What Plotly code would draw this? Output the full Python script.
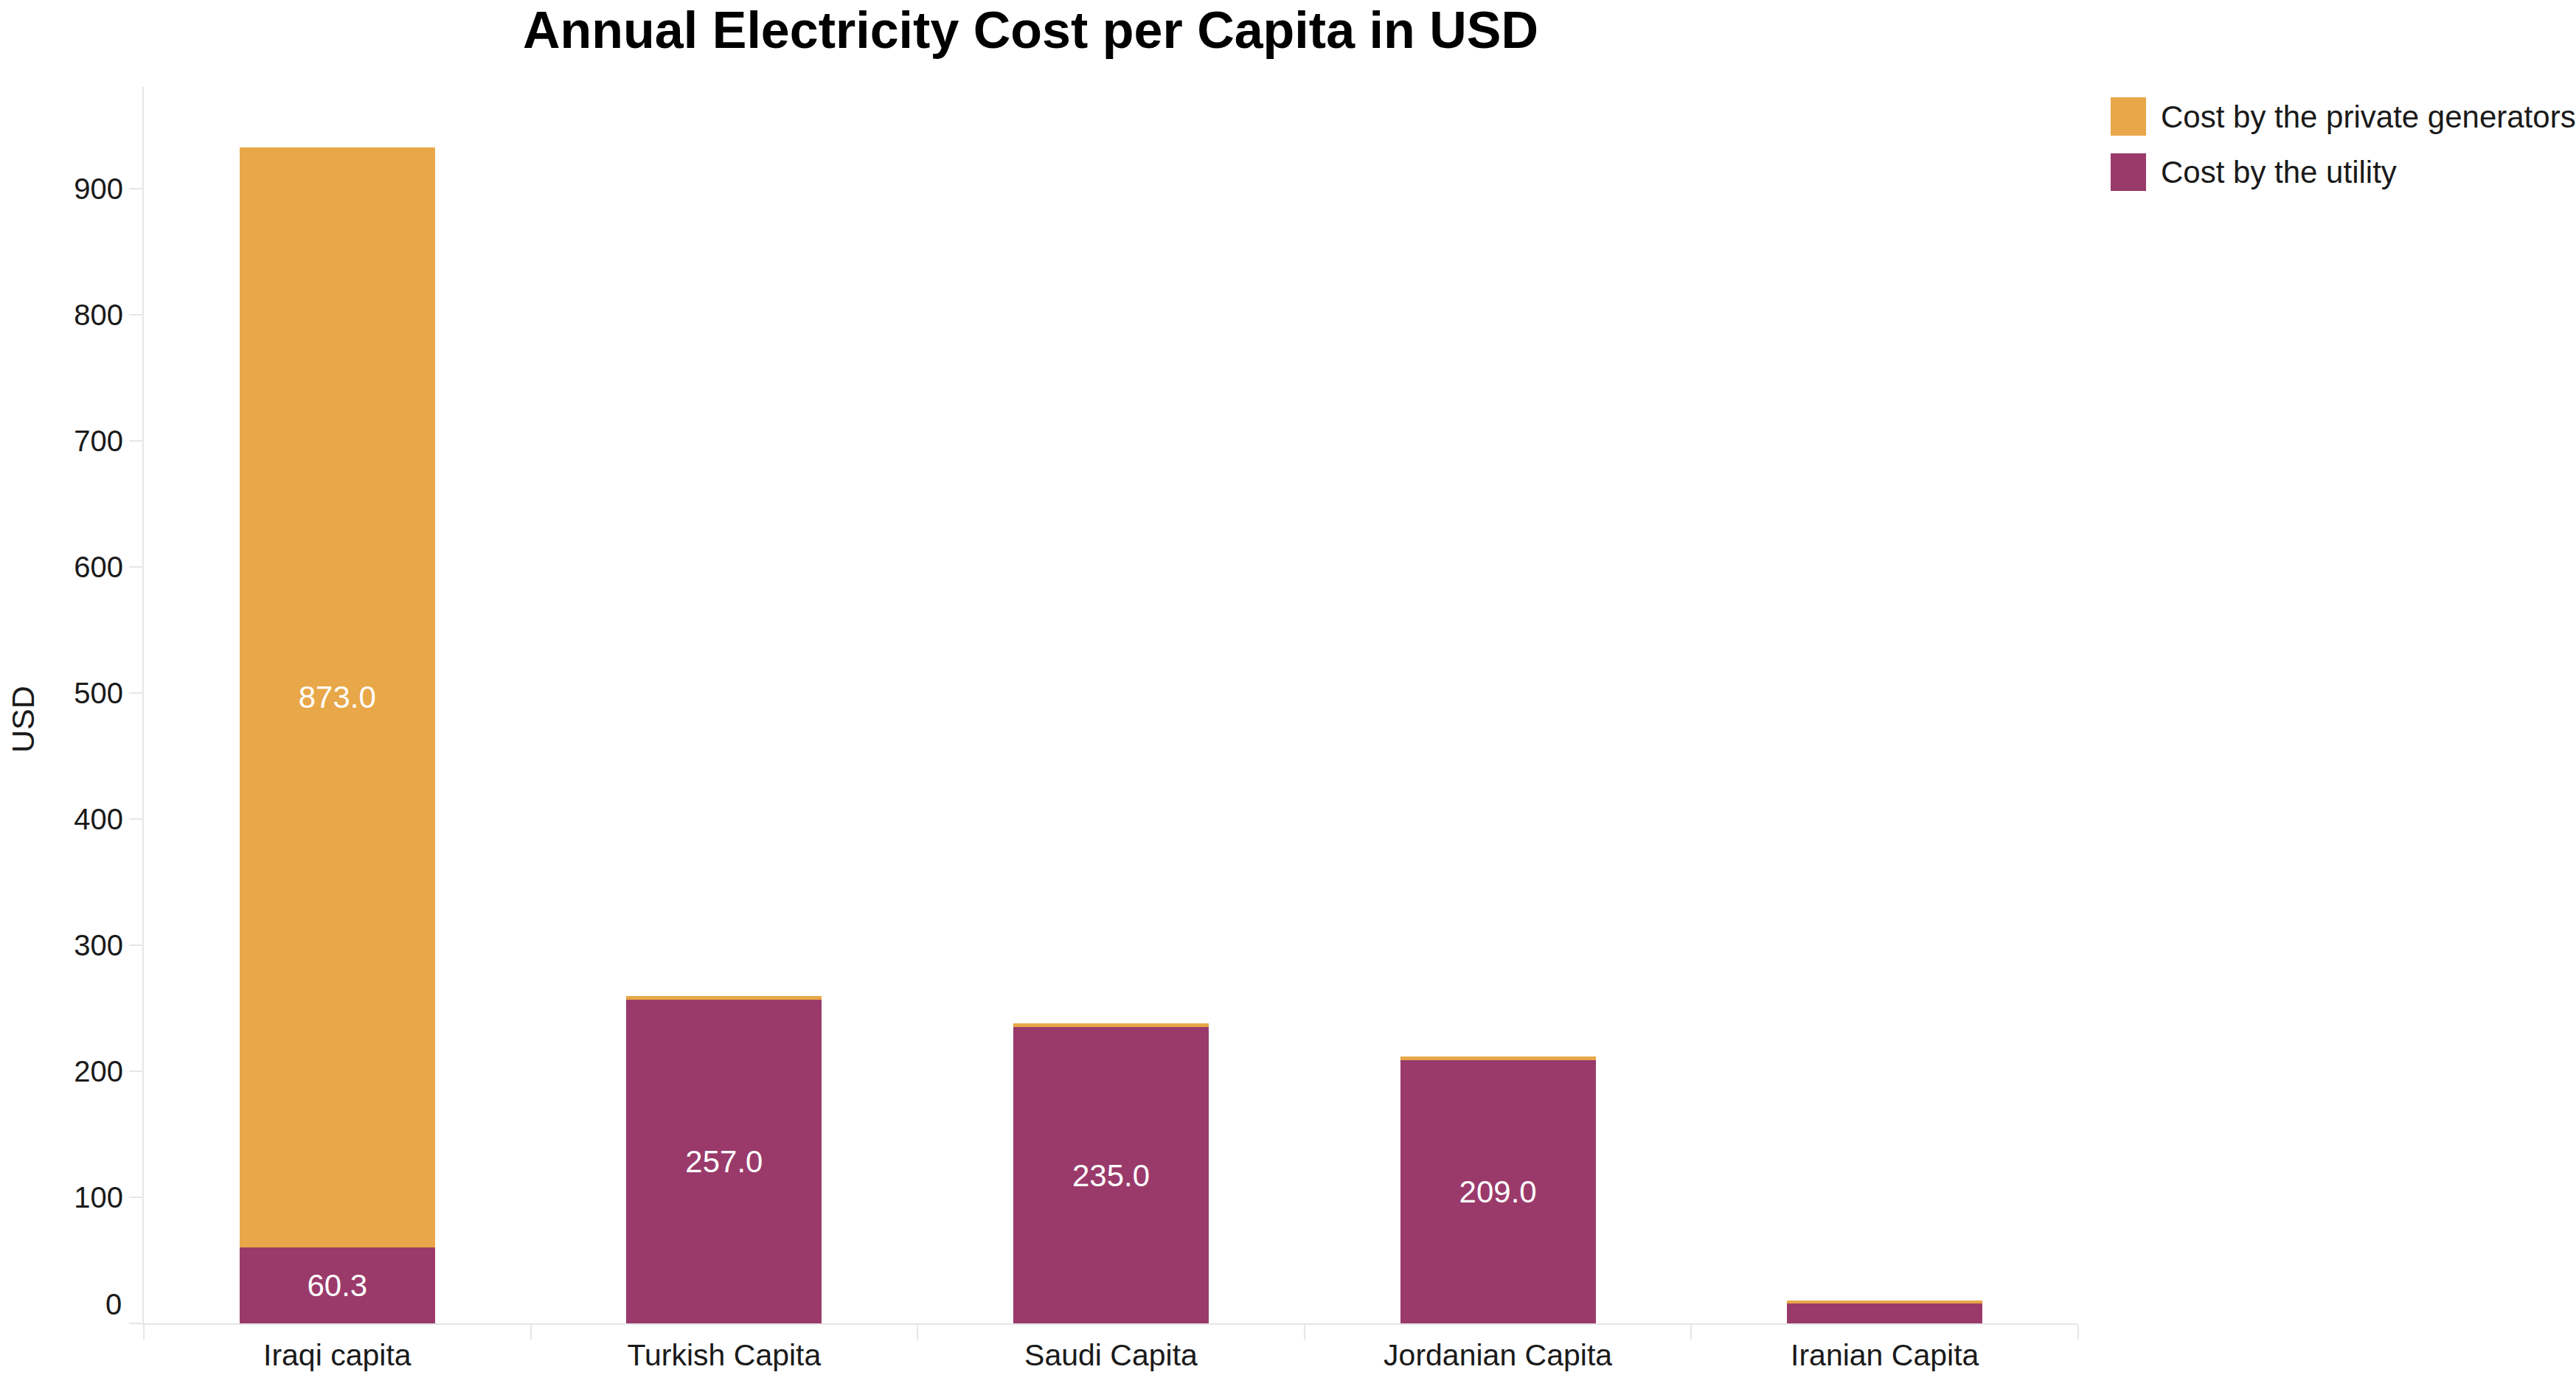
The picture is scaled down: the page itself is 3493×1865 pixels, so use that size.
import plotly.graph_objects as go

# Annual electricity cost per capita (USD), split by supplier
categories = ["Iraqi capita", "Turkish Capita", "Saudi Capita", "Jordanian Capita", "Iranian Capita"]
utility_cost = [60.3, 257.0, 235.0, 209.0, 16.0]
private_generator_cost = [873.0, 2.6, 2.9, 3.0, 2.0]
y_tick_values = [0, 100, 200, 300, 400, 500, 600, 700, 800, 900]

series_names = ["Cost by the private generators", "Cost by the utility"]
ORANGE = "#E8A748"
PURPLE = "#9A3A6B"
FONT = "Liberation Sans, Arial, sans-serif"
TEXT = "#1a1a1a"

W, H = 3493, 1865
L, R, T, B = 195, 675, 118, 70
plot_w, plot_h = W - L - R, H - T - B


def px_x(px):
    return (px - L) / plot_w


def px_y(py):
    return (H - B - py) / plot_h


fig = go.Figure()
fig.add_trace(go.Bar(
    x=categories, y=utility_cost, name=series_names[1],
    marker=dict(color=PURPLE, line=dict(width=0)),
    texttemplate="%{y:.1f}", textposition="inside", insidetextanchor="middle",
    textangle=0, insidetextfont=dict(color="white", size=42, family=FONT),
    showlegend=False,
))
fig.add_trace(go.Bar(
    x=categories, y=private_generator_cost, name=series_names[0],
    marker=dict(color=ORANGE, line=dict(width=0)),
    texttemplate="%{y:.1f}", textposition="inside", insidetextanchor="middle",
    textangle=0, insidetextfont=dict(color="white", size=42, family=FONT),
    showlegend=False,
))

# Legend drawn as large swatches with labels
legend_rows = [(series_names[0], ORANGE, 132, 184), (series_names[1], PURPLE, 208, 259)]
shapes = []
annotations = []
for name, color, top, bottom in legend_rows:
    shapes.append(dict(type="rect", xref="paper", yref="paper",
                       x0=px_x(2862), x1=px_x(2910), y0=px_y(bottom), y1=px_y(top),
                       fillcolor=color, line=dict(width=0), layer="above"))
    annotations.append(dict(text=name, xref="paper", yref="paper",
                            x=px_x(2928), y=px_y((top + bottom) / 2),
                            xanchor="left", yanchor="middle", showarrow=False,
                            font=dict(family=FONT, size=42, color=TEXT)))

# y-axis title
annotations.append(dict(text="USD", xref="paper", yref="paper",
                        x=px_x(31), y=px_y(976), textangle=-90,
                        xanchor="center", yanchor="middle", showarrow=False,
                        font=dict(family=FONT, size=43, color=TEXT)))

# the zero label sits slightly above the baseline
y_tick_text = [str(v) for v in y_tick_values]
y_tick_text[0] = ""
annotations.append(dict(text=str(y_tick_values[0]), xref="paper", yref="y",
                        x=px_x(167), y=y_tick_values[0], yshift=26,
                        xanchor="right", yanchor="middle", showarrow=False,
                        font=dict(family=FONT, size=40, color=TEXT)))

fig.update_layout(
    width=W, height=H,
    margin=dict(l=L, r=R, t=T, b=B, autoexpand=False),
    paper_bgcolor="white", plot_bgcolor="white",
    barmode="stack", bargap=0.495,
    showlegend=False,
    uniformtext=dict(minsize=42, mode="hide"),
    title=dict(text="<b>Annual Electricity Cost per Capita in USD</b>",
               x=1397.5 / W, xanchor="center", xref="container",
               y=1 - 40 / H, yanchor="middle", yref="container",
               font=dict(family=FONT, size=70, color="black")),
    font=dict(family=FONT, color=TEXT),
    shapes=shapes, annotations=annotations,
)
fig.update_xaxes(
    showline=True, linecolor="#e6e6e6", linewidth=2,
    ticks="outside", tickson="boundaries", ticklen=20, tickcolor="#e6e6e6", tickwidth=2,
    tickfont=dict(size=41, family=FONT, color=TEXT), ticklabelstandoff=6,
    showgrid=False, zeroline=False,
)
fig.update_yaxes(
    range=[0, 981], tickvals=y_tick_values, ticktext=y_tick_text,
    showline=True, linecolor="#e6e6e6", linewidth=2,
    ticks="outside", ticklen=18, tickcolor="#e6e6e6", tickwidth=2,
    tickfont=dict(size=40, family=FONT, color=TEXT),
    showgrid=False, zeroline=False,
)

fig.write_html("out.html")
